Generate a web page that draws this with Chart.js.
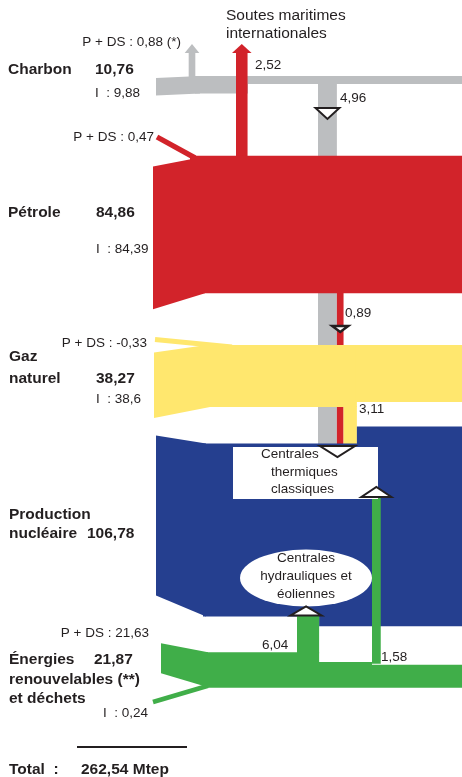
<!DOCTYPE html>
<html lang="fr">
<head>
<meta charset="utf-8">
<title>Bilan énergétique primaire</title>
<script src="https://cdn.jsdelivr.net/npm/chart.js@4.4.1/dist/chart.umd.min.js"></script>
<style>
  html, body { margin: 0; padding: 0; background: #fff; }
  canvas { display: block; }
</style>
</head>
<body>
<canvas id="bilanChart" width="462" height="777"></canvas>
<script>
// valeurs en Mtep
const sources = ['Charbon', 'Pétrole', 'Gaz naturel', 'Production nucléaire', 'Énergies renouvelables (**) et déchets'];
const totaux = [10.76, 84.86, 38.27, 106.78, 21.87];
const productionDs = [0.88, 0.47, -0.33, null, 21.63];
const importations = [9.88, 84.39, 38.6, null, 0.24];
const versThermique = [4.96, 0.89, 3.11, 0, 1.58];
const soutes = 2.52;
const versHydraulique = 6.04;
const totalGeneral = 262.54;

const couleurs = ['#bcbec0', '#d2232a', '#ffe76e', '#253f8f', '#40ae49'];
const encre = '#231f20';
const police = '"Liberation Sans", Arial, sans-serif';

// épaisseur des bandes : K par Mtep, branches élargies comme sur l'original
const K = 1.62;
const largeur = v => 4 + 3 * Math.abs(v);
const centres = [null, 224.5, 376, 530, 670];

function fr(v) {
  return String(v).replace('.', ',');
}

const sankeyPlugin = {

  id: 'sankey',

  afterDraw(chart) {

    const ctx = chart.ctx;
    const X = v => chart.scales.x.getPixelForValue(v);
    const Y = v => chart.scales.y.getPixelForValue(v);

    function poly(pts, color) {
      ctx.beginPath();
      pts.forEach(([x, y], i) => i ? ctx.lineTo(X(x), Y(y)) : ctx.moveTo(X(x), Y(y)));
      ctx.closePath();
      ctx.fillStyle = color;
      ctx.fill();
    }

    function rect(x0, y0, x1, y1, color) {
      poly([[x0, y0], [x1, y0], [x1, y1], [x0, y1]], color);
    }

    function entree(x0, x1, yHaut, yBas, dHaut, dBas, color) {
      poly([[x0, yHaut + dHaut], [x1, yHaut], [x1, yBas], [x0, yBas + dBas]], color);
    }

    function trait(x0, y0, x1, y1, w, color) {
      ctx.beginPath();
      ctx.moveTo(X(x0), Y(y0));
      ctx.lineTo(X(x1), Y(y1));
      ctx.lineWidth = w;
      ctx.strokeStyle = color;
      ctx.lineCap = 'butt';
      ctx.stroke();
    }

    function fleche(cx, w, yBase, yBas, color) {
      rect(cx - w / 2, yBase, cx + w / 2, yBas, color);
      poly([[cx - w / 2 - 4, yBase], [cx + w / 2 + 4, yBase], [cx, yBase - 9]], color);
    }

    function repere(cx, base, pointe, w, lw) {
      ctx.beginPath();
      ctx.moveTo(X(cx - w / 2), Y(base));
      ctx.lineTo(X(cx + w / 2), Y(base));
      ctx.lineTo(X(cx), Y(pointe));
      ctx.closePath();
      ctx.fillStyle = '#fff';
      ctx.fill();
      ctx.lineWidth = lw;
      ctx.strokeStyle = encre;
      ctx.lineJoin = 'miter';
      ctx.stroke();
    }

    const xDroite = 462;
    const yBoite = 447;

    // descentes vers les centrales thermiques, empilées
    const xPile = 318;
    const xP1 = xPile + largeur(versThermique[0]);
    const xP2 = xP1 + largeur(versThermique[1]);
    const xP3 = xP2 + largeur(versThermique[2]);

    // charbon
    const yC = 76;
    const cBasG = yC + totaux[0] * K;
    const cBasD = yC + (totaux[0] - productionDs[0] - versThermique[0]) * K;

    // pétrole
    const rT = centres[1] - totaux[1] * K / 2;
    const rB = centres[1] + totaux[1] * K / 2;

    // gaz
    const gzT = centres[2] - totaux[2] * K / 2;
    const gzB = centres[2] + totaux[2] * K / 2;

    // nucléaire
    const nT = centres[3] - totaux[3] * K / 2;
    const nB = centres[3] + totaux[3] * K / 2;
    const sommeThermique = versThermique.reduce((a, v) => a + v, 0);

    // renouvelables
    const eT = centres[4] - totaux[4] * K / 2;
    const eB = centres[4] + totaux[4] * K / 2;
    const xH = 297;
    const xH2 = xH + largeur(versHydraulique);
    const xR = 372;
    const xR2 = xR + largeur(versThermique[4]);

    // branches verticales (derrière les bandes)
    rect(xPile, cBasD - 1, xP1, yBoite, couleurs[0]);
    rect(xP1, rB - 1, xP2, yBoite, couleurs[1]);
    rect(xP2, gzB - 1, xP3, yBoite, couleurs[2]);

    // charbon
    fleche(192, largeur(productionDs[0]), 53, yC + 1, couleurs[0]);
    entree(156, 200, yC, cBasG, 2, 2, couleurs[0]);
    rect(195, yC, 248, cBasG, couleurs[0]);
    rect(246, yC, xDroite, cBasD, couleurs[0]);

    // soutes maritimes
    const wS = largeur(soutes);
    fleche(236 + wS / 2, wS, 53, rT + 1, couleurs[1]);

    // pétrole
    trait(157, 137, 195, rT + 2, largeur(productionDs[1]), couleurs[1]);
    entree(153, 205, rB - importations[1] * K, rB, 10, 16, couleurs[1]);
    rect(190, rT, xDroite, rB, couleurs[1]);

    // gaz naturel
    trait(155, 339.5, 232, gzT + 2, largeur(productionDs[2]), couleurs[2]);
    entree(154, 210, gzB - importations[2] * K, gzB, 8, 11, couleurs[2]);
    rect(205, gzT, xP3, gzB, couleurs[2]);
    rect(xP3 - 1, gzT, xDroite, gzT + (totaux[2] - versThermique[2]) * K, couleurs[2]);

    // nucléaire et électricité
    entree(156, 206, nT, nB, -8, -21, couleurs[3]);
    poly([
      [203, nT], [xP3, nT], [xP3, nT - sommeThermique * K], [xDroite, nT - sommeThermique * K],
      [xDroite, nB + versHydraulique * K], [xH2, nB + versHydraulique * K], [xH2, nB], [203, nB]
    ], couleurs[3]);

    // renouvelables
    rect(xR, 497, xR2, eT + (versHydraulique + 1) * K, couleurs[4]);
    rect(xH, nB - 1, xH2, eT + 1, couleurs[4]);
    trait(153, 702, 208, eB - 2, largeur(importations[4]), couleurs[4]);
    entree(161, 208, eT, eT + productionDs[4] * K, -9, -14, couleurs[4]);
    poly([
      [205, eT], [xH2, eT], [xH2, eT + versHydraulique * K], [xR, eT + versHydraulique * K],
      [xR, eT + (versHydraulique + versThermique[4]) * K], [xDroite, eT + (versHydraulique + versThermique[4]) * K],
      [xDroite, eB], [205, eB]
    ], couleurs[4]);

    // centrales
    rect(233, yBoite, 378, 499, '#fff');
    ctx.beginPath();
    ctx.ellipse(X(306), Y(578), 66, 28.5, 0, 0, Math.PI * 2);
    ctx.fillStyle = '#fff';
    ctx.fill();

    repere((xPile + xP1) / 2, 108, 119, largeur(versThermique[0]) + 5, 2);
    repere((xP1 + xP2) / 2, 326, 332, 16, 2.5);
    repere((xPile + xP3) / 2, yBoite - 1, yBoite + 10, 35, 2);
    repere((xR + xR2) / 2, 497, 487, 30, 2);
    repere((xH + xH2) / 2 - 2, nB - 1, nB - 10, 31, 2);

    // textes
    const norm = '13.5px ' + police;
    const gras = 'bold 15.5px ' + police;
    const textes = [
      ['Soutes maritimes', 226, 16, '15.5px ' + police, 'left'],
      ['internationales', 226, 34, '15.5px ' + police, 'left'],
      ['P + DS : ' + fr(productionDs[0]) + ' (*)', 181, 42, norm, 'right'],
      ['Charbon', 8, 70, gras, 'left'],
      [fr(totaux[0]), 95, 70, gras, 'left'],
      ['I  : ' + fr(importations[0]), 95, 93, norm, 'left'],
      [fr(soutes), 255, 65, norm, 'left'],
      [fr(versThermique[0]), 340, 98, norm, 'left'],
      ['P + DS : ' + fr(productionDs[1]), 154, 137, norm, 'right'],
      ['Pétrole', 8, 213, gras, 'left'],
      [fr(totaux[1]), 96, 213, gras, 'left'],
      ['I  : ' + fr(importations[1]), 96, 249, norm, 'left'],
      [fr(versThermique[1]), 345, 313, norm, 'left'],
      ['P + DS : ' + fr(productionDs[2]), 147, 343, norm, 'right'],
      ['Gaz', 9, 357, gras, 'left'],
      ['naturel', 9, 379, gras, 'left'],
      [fr(totaux[2]), 96, 379, gras, 'left'],
      ['I  : ' + fr(importations[2]), 96, 399, norm, 'left'],
      [fr(versThermique[2]), 359, 409, norm, 'left'],
      ['Production', 9, 515, gras, 'left'],
      ['nucléaire', 9, 534, gras, 'left'],
      [fr(totaux[3]), 87, 534, gras, 'left'],
      ['Centrales', 261, 454, norm, 'left'],
      ['thermiques', 271, 472, norm, 'left'],
      ['classiques', 271, 489, norm, 'left'],
      ['Centrales', 306, 558, norm, 'center'],
      ['hydrauliques et', 306, 576, norm, 'center'],
      ['éoliennes', 306, 594, norm, 'center'],
      ['P + DS : ' + fr(productionDs[4]), 149, 633, norm, 'right'],
      [fr(versHydraulique), 262, 645, norm, 'left'],
      [fr(versThermique[4]), 381, 657, norm, 'left'],
      ['Énergies', 9, 660, gras, 'left'],
      [fr(totaux[4]), 94, 660, gras, 'left'],
      ['renouvelables (**)', 9, 680, gras, 'left'],
      ['et déchets', 9, 699, gras, 'left'],
      ['I  : ' + fr(importations[4]), 103, 713, norm, 'left'],
      ['Total  :', 9, 770, gras, 'left'],
      [fr(totalGeneral) + ' Mtep', 81, 770, gras, 'left']
    ];

    ctx.fillStyle = encre;
    ctx.textBaseline = 'middle';
    textes.forEach(([t, x, y, f, a]) => {
      ctx.font = f;
      ctx.textAlign = a;
      ctx.fillText(t, X(x), Y(y));
    });

    trait(77, 747, 187, 747, 2, encre);
  }
};

new Chart(
  document.getElementById('bilanChart'),
  {
    type: 'scatter',

    data: {
      datasets: [{
        label: sources.join(' / '),
        data: []
      }]
    },

    options: {
      responsive: false,
      animation: false,
      layout: { padding: 0 },
      plugins: {
        legend: { display: false },
        tooltip: { enabled: false }
      },
      scales: {
        x: { type: 'linear', min: 0, max: 462, display: false },
        y: { type: 'linear', min: 0, max: 777, reverse: true, display: false }
      }
    },

    plugins: [sankeyPlugin]
  }
);
</script>
</body>
</html>
